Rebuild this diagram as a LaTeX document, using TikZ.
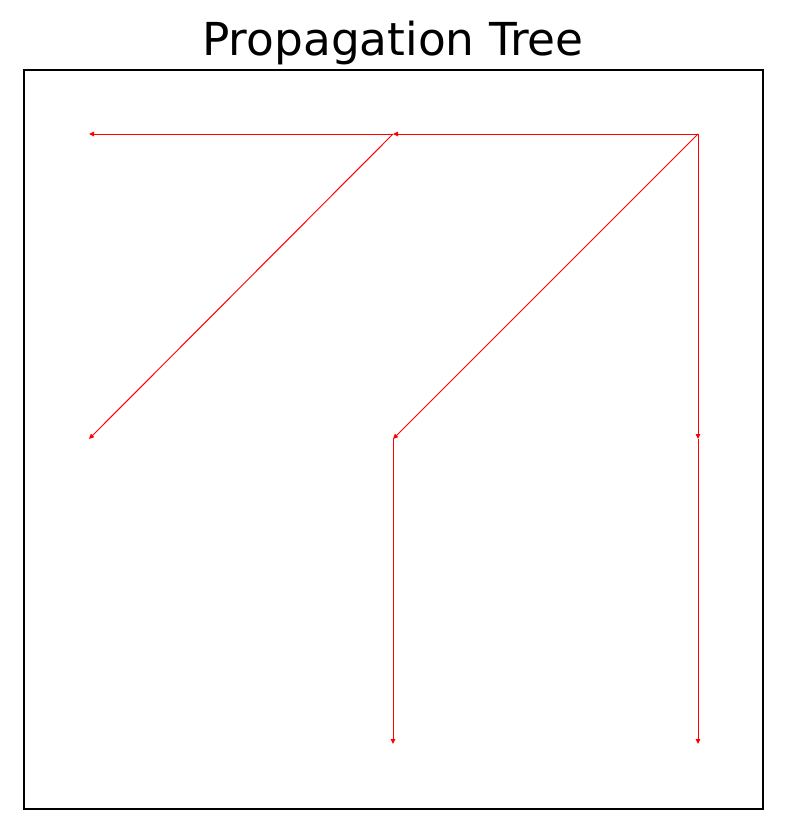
\documentclass[tikz,border=0pt]{standalone}
\usepackage{fontspec}
\setmainfont{DejaVu Sans}
\usetikzlibrary{arrows.meta}
\definecolor{EdgeRed}{HTML}{FF0000}

\begin{document}
\begin{tikzpicture}[x=1pt,y=-1pt,>={Triangle[length=5pt,width=4.5pt]},every node/.style={inner sep=0pt,outer sep=0pt},vertex/.style={minimum size=0pt},edge/.style={->,draw=EdgeRed,line width=1pt}]
\useasboundingbox (0,0) rectangle (786,833);
\node[anchor=base,font=\fontsize{45.4}{50}\selectfont](title) at (393,55){Propagation Tree};
\draw[line width=1.2pt] (24,70) rectangle (763,809);
% grid of points
\node[vertex](a1) at (89,134){};
\node[vertex](a2) at (393,134){};
\node[vertex](a3) at (698,134){};
\node[vertex](b1) at (89,439){};
\node[vertex](b2) at (393,439){};
\node[vertex](b3) at (698,439){};
\node[vertex](c2) at (393,744){};
\node[vertex](c3) at (698,744){};
\draw[edge](a3)--(a2);
\draw[edge](a2)--(a1);
\draw[edge](a2)--(b1);
\draw[edge](a3)--(b2);
\draw[edge](a3)--(b3);
\draw[edge](b2)--(c2);
\draw[edge](b3)--(c3);
\end{tikzpicture}
\end{document}
